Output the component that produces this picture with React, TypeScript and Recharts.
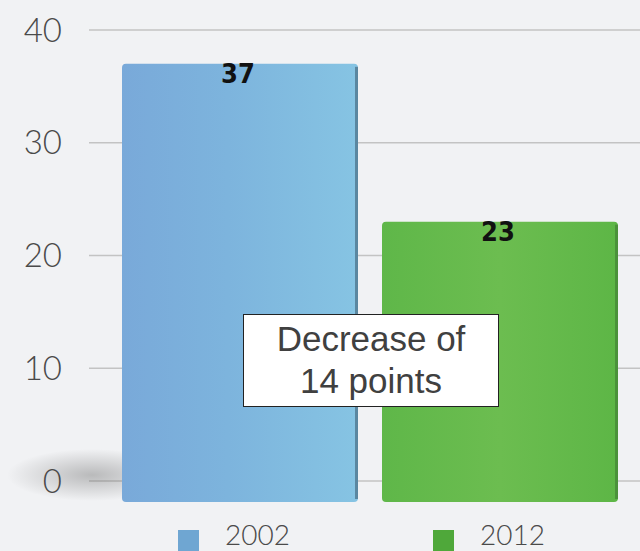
import React from "react";
import { Bar, BarChart, CartesianGrid, Cell, LabelList, XAxis, YAxis } from "recharts";

// survey years and scores
const years = ["2002", "2012"];
const scores = [37, 23];
const yTicks = [0, 10, 20, 30, 40];
const noteLines = ["Decrease of", "14 points"];

const BAR_FILLS = ["url(#blueFill)", "url(#greenFill)"];
const SWATCHES = ["#6fa6d2", "#4fa83a"];

const data = years.map((year, i) => ({ year, score: scores[i] }));

const TICK_FONT = "Lato, 'Open Sans', sans-serif";

// bar drawn a little past the baseline, with a darker right edge
function PanelBar(props: any) {
    const { x, y, width, height, index } = props;
    const h = height + 21;
    return (
        <g>
            {index === 0 && (
                <ellipse cx={x - 30} cy={y + height - 6} rx={85} ry={26} fill="url(#shade)" />
            )}
            <rect x={x} y={y} width={width} height={h} rx={4} fill={BAR_FILLS[index]} />
            <rect
                x={x + width - 3}
                y={y + 3}
                width={3}
                height={h - 6}
                fill={index === 0 ? "#3f5f73" : "#3f7a32"}
                opacity={0.6}
            />
        </g>
    );
}

function ValueLabel(props: any) {
    const { x, y, width, value } = props;
    return (
        <text
            x={x + width / 2 - 2}
            y={y + 19}
            textAnchor="middle"
            fontFamily="'DejaVu Sans Condensed', 'DejaVu Sans', sans-serif"
            fontWeight="bold"
            fontSize={27}
            fill="#111"
        >
            {value}
        </text>
    );
}

export default function App() {
    return (
        <div
            style={{
                position: "fixed",
                left: 0,
                top: 0,
                width: 640,
                height: 551,
                background: "#f1f2f4",
                overflow: "hidden",
            }}
        >
            <BarChart
                width={640}
                height={551}
                data={data}
                margin={{ top: 30, right: 0, bottom: 70, left: 0 }}
                barCategoryGap={12}
            >
                <defs>
                    <linearGradient id="blueFill" x1="0" y1="0" x2="1" y2="0">
                        <stop offset="0%" stopColor="#79a9d9" />
                        <stop offset="45%" stopColor="#7db4dd" />
                        <stop offset="100%" stopColor="#86c4e3" />
                    </linearGradient>
                    <linearGradient id="greenFill" x1="0" y1="0" x2="1" y2="0">
                        <stop offset="0%" stopColor="#5fb749" />
                        <stop offset="50%" stopColor="#6cbd50" />
                        <stop offset="100%" stopColor="#5db646" />
                    </linearGradient>
                    <radialGradient id="shade">
                        <stop offset="0%" stopColor="#666" stopOpacity={0.4} />
                        <stop offset="100%" stopColor="#666" stopOpacity={0} />
                    </radialGradient>
                </defs>
                <CartesianGrid vertical={false} stroke="#c3c3c3" strokeWidth={1.5} />
                <XAxis dataKey="year" hide padding={{ left: 21, right: 10 }} />
                <YAxis
                    width={89}
                    domain={[0, 40]}
                    ticks={yTicks}
                    axisLine={false}
                    tickLine={false}
                    tickMargin={21}
                    tick={{ fontSize: 33, fill: "#4a4a4a", fontFamily: TICK_FONT, fontWeight: 300 }}
                />
                <Bar dataKey="score" shape={<PanelBar />} isAnimationActive={false}>
                    {data.map((d, i) => (
                        <Cell key={d.year} fill={SWATCHES[i]} />
                    ))}
                    <LabelList dataKey="score" content={<ValueLabel />} />
                </Bar>
            </BarChart>

            <div
                style={{
                    position: "absolute",
                    left: 243,
                    top: 314,
                    width: 256,
                    height: 93,
                    boxSizing: "border-box",
                    background: "#fff",
                    border: "1.5px solid #222",
                    fontFamily: "'Liberation Sans', Arial, sans-serif",
                    fontSize: 35,
                    lineHeight: "42px",
                    color: "#404040",
                    textAlign: "center",
                    paddingTop: 3,
                }}
            >
                {noteLines.map((line) => (
                    <div key={line}>{line}</div>
                ))}
            </div>

            {years.map((year, i) => (
                <div
                    key={year}
                    style={{
                        position: "absolute",
                        left: 178 + i * 255,
                        top: 520,
                        height: 31,
                        display: "flex",
                        alignItems: "flex-start",
                        fontFamily: TICK_FONT,
                        fontWeight: 300,
                        fontSize: 28,
                        lineHeight: "28px",
                        color: "#4a4a4a",
                    }}
                >
                    <span
                        style={{
                            display: "inline-block",
                            width: 21,
                            height: 21,
                            marginTop: 10,
                            background: SWATCHES[i],
                            marginRight: 26,
                        }}
                    />
                    <span>{year}</span>
                </div>
            ))}
        </div>
    );
}
